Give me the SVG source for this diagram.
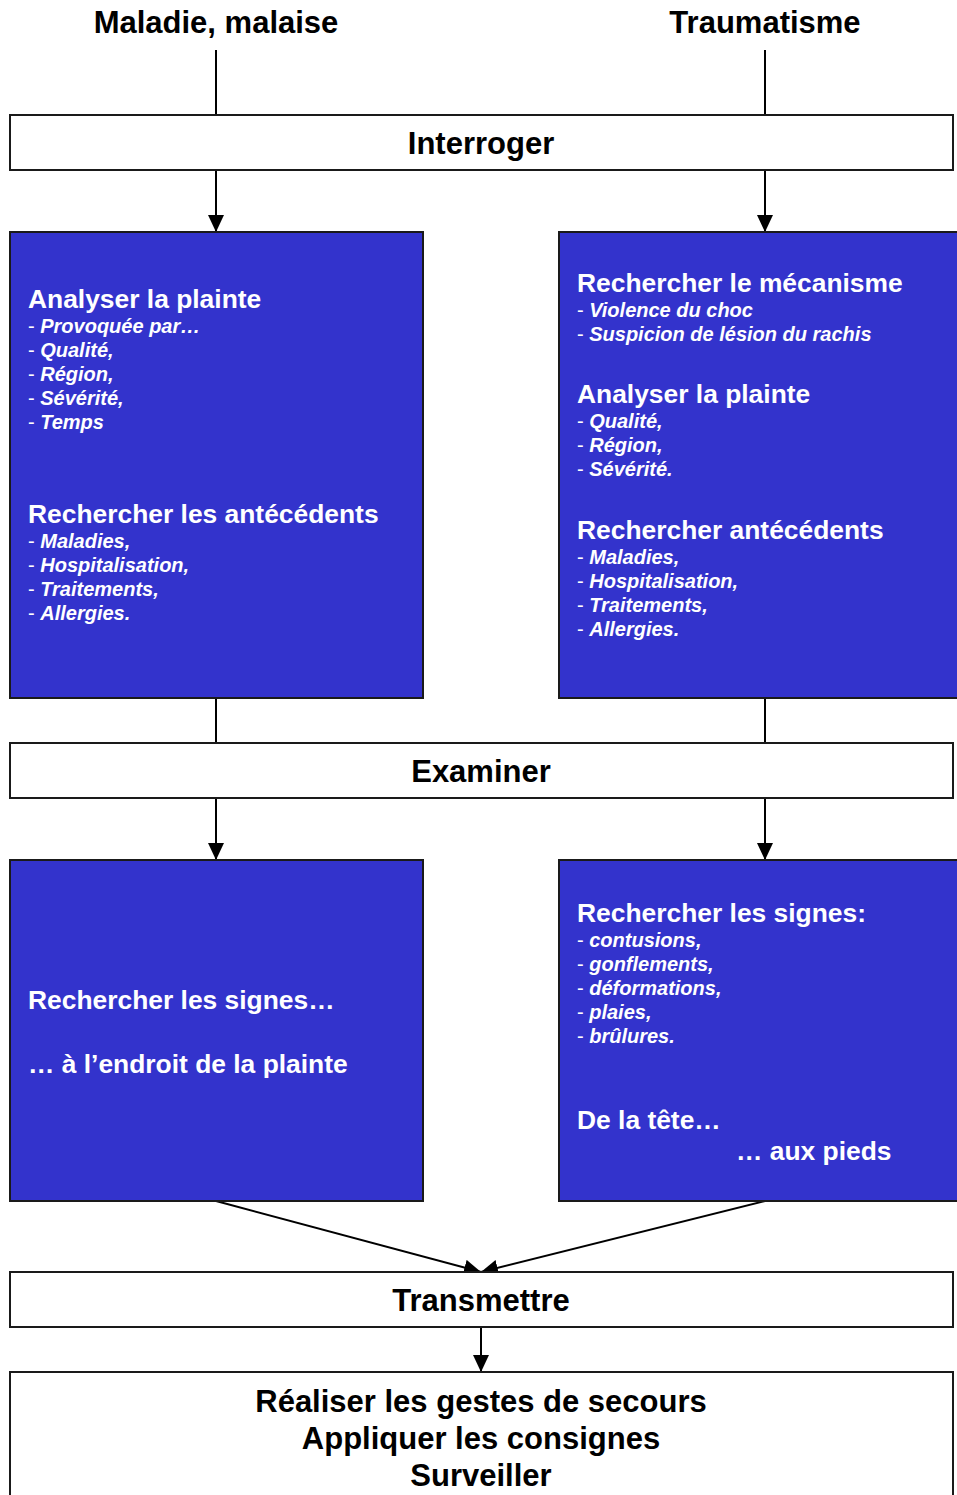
<svg xmlns="http://www.w3.org/2000/svg" width="957" height="1495" viewBox="0 0 957 1495">
<style>
.bg{fill:#ffffff}
.wbox{fill:#ffffff;stroke:#1a1a1a;stroke-width:2}
.bbox{fill:#3333cc;stroke:#1a1a1a;stroke-width:2}
.conn{stroke:#000;stroke-width:2;fill:none}
.title{font-family:"Liberation Sans",Arial,sans-serif;font-weight:bold;font-size:31px;fill:#000}
.mid{text-anchor:middle}
.h{font-family:"Liberation Sans",Arial,sans-serif;font-weight:bold;font-size:26.4px;fill:#fff}
.it{font-family:"Liberation Sans",Arial,sans-serif;font-weight:bold;font-style:italic;font-size:20px;fill:#fff}
.d{font-weight:normal;font-style:normal}
</style>
<defs>
<marker id="ah" markerUnits="userSpaceOnUse" markerWidth="17" markerHeight="16" refX="17" refY="8" orient="auto">
<path d="M0,0 L17,8 L0,16 z" fill="#000"/>
</marker>
</defs>
<rect class="bg" x="0" y="0" width="957" height="1495"/>

<g id="connectors">
<line class="conn" x1="216" y1="50" x2="216" y2="115"/>
<line class="conn" x1="765" y1="50" x2="765" y2="115"/>
<line class="conn" x1="216" y1="170" x2="216" y2="232" marker-end="url(#ah)"/>
<line class="conn" x1="765" y1="170" x2="765" y2="232" marker-end="url(#ah)"/>
<line class="conn" x1="216" y1="698" x2="216" y2="743"/>
<line class="conn" x1="765" y1="698" x2="765" y2="743"/>
<line class="conn" x1="216" y1="798" x2="216" y2="860" marker-end="url(#ah)"/>
<line class="conn" x1="765" y1="798" x2="765" y2="860" marker-end="url(#ah)"/>
<line class="conn" x1="216" y1="1201" x2="481" y2="1272" marker-end="url(#ah)"/>
<line class="conn" x1="765" y1="1201" x2="481" y2="1272" marker-end="url(#ah)"/>
<line class="conn" x1="481" y1="1327" x2="481" y2="1372" marker-end="url(#ah)"/>
</g>

<g id="label-maladie">
<text class="title mid" x="216" y="33">Maladie, malaise</text>
</g>
<g id="label-traumatisme">
<text class="title mid" x="765" y="33">Traumatisme</text>
</g>

<g id="interroger">
<rect class="wbox" x="10" y="115" width="943" height="55"/>
<text class="title mid" x="481" y="154">Interroger</text>
</g>

<g id="interroger-maladie">
<rect class="bbox" x="10" y="232" width="413" height="466"/>
<text class="h" x="28" y="308">Analyser la plainte</text>
<text class="it" x="28" y="333"><tspan class="d">- </tspan>Provoquée par…</text>
<text class="it" x="28" y="357"><tspan class="d">- </tspan>Qualité,</text>
<text class="it" x="28" y="381"><tspan class="d">- </tspan>Région,</text>
<text class="it" x="28" y="405"><tspan class="d">- </tspan>Sévérité,</text>
<text class="it" x="28" y="429"><tspan class="d">- </tspan>Temps</text>
<text class="h" x="28" y="523">Rechercher les antécédents</text>
<text class="it" x="28" y="548"><tspan class="d">- </tspan>Maladies,</text>
<text class="it" x="28" y="572"><tspan class="d">- </tspan>Hospitalisation,</text>
<text class="it" x="28" y="596"><tspan class="d">- </tspan>Traitements,</text>
<text class="it" x="28" y="620"><tspan class="d">- </tspan>Allergies.</text>
</g>

<g id="interroger-trauma">
<rect class="bbox" x="559" y="232" width="410" height="466"/>
<text class="h" x="577" y="292">Rechercher le mécanisme</text>
<text class="it" x="577" y="317"><tspan class="d">- </tspan>Violence du choc</text>
<text class="it" x="577" y="341"><tspan class="d">- </tspan>Suspicion de lésion du rachis</text>
<text class="h" x="577" y="403">Analyser la plainte</text>
<text class="it" x="577" y="428"><tspan class="d">- </tspan>Qualité,</text>
<text class="it" x="577" y="452"><tspan class="d">- </tspan>Région,</text>
<text class="it" x="577" y="476"><tspan class="d">- </tspan>Sévérité.</text>
<text class="h" x="577" y="539">Rechercher antécédents</text>
<text class="it" x="577" y="564"><tspan class="d">- </tspan>Maladies,</text>
<text class="it" x="577" y="588"><tspan class="d">- </tspan>Hospitalisation,</text>
<text class="it" x="577" y="612"><tspan class="d">- </tspan>Traitements,</text>
<text class="it" x="577" y="636"><tspan class="d">- </tspan>Allergies.</text>
</g>

<g id="examiner">
<rect class="wbox" x="10" y="743" width="943" height="55"/>
<text class="title mid" x="481" y="782">Examiner</text>
</g>

<g id="examiner-maladie">
<rect class="bbox" x="10" y="860" width="413" height="341"/>
<text class="h" x="28" y="1009">Rechercher les signes…</text>
<text class="h" x="28" y="1073">… à l’endroit de la plainte</text>
</g>

<g id="examiner-trauma">
<rect class="bbox" x="559" y="860" width="410" height="341"/>
<text class="h" x="577" y="922">Rechercher les signes:</text>
<text class="it" x="577" y="947"><tspan class="d">- </tspan>contusions,</text>
<text class="it" x="577" y="971"><tspan class="d">- </tspan>gonflements,</text>
<text class="it" x="577" y="995"><tspan class="d">- </tspan>déformations,</text>
<text class="it" x="577" y="1019"><tspan class="d">- </tspan>plaies,</text>
<text class="it" x="577" y="1043"><tspan class="d">- </tspan>brûlures.</text>
<text class="h" x="577" y="1129">De la tête…</text>
<text class="h" x="736" y="1160">… aux pieds</text>
</g>

<g id="transmettre">
<rect class="wbox" x="10" y="1272" width="943" height="55"/>
<text class="title mid" x="481" y="1311">Transmettre</text>
</g>

<g id="actions">
<rect class="wbox" x="10" y="1372" width="943" height="140"/>
<text class="title mid" x="481" y="1412">Réaliser les gestes de secours</text>
<text class="title mid" x="481" y="1449">Appliquer les consignes</text>
<text class="title mid" x="481" y="1486">Surveiller</text>
</g>
</svg>
